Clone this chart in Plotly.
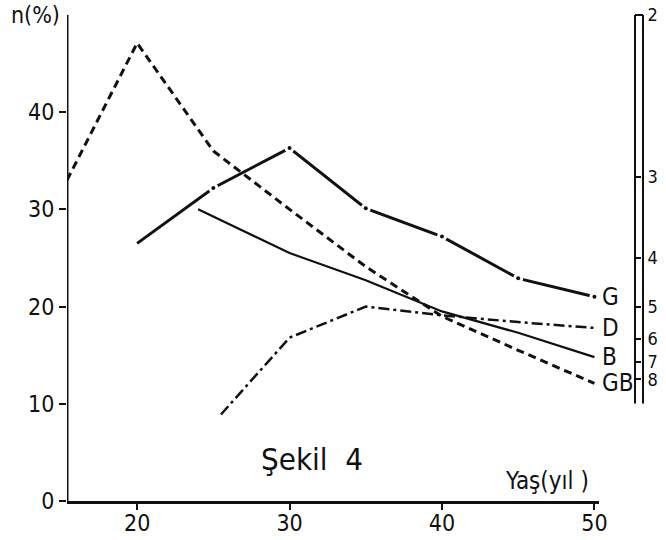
import plotly.graph_objects as go

# ---- data ----
age_G = [20, 25, 30, 35, 40, 45, 50]
n_G = [26.5, 32.2, 36.3, 30.1, 27.2, 22.9, 21.0]

age_D = [25.5, 30, 35, 40, 45, 50]
n_D = [8.9, 16.8, 20.0, 19.1, 18.4, 17.8]

age_B = [24, 30, 35, 40, 45, 50]
n_B = [30.0, 25.5, 22.7, 19.5, 17.3, 14.8]

age_GB = [15.4, 20, 25, 30, 35, 40, 45, 50]
n_GB = [33.0, 47.1, 36.0, 30.0, 24.1, 19.0, 15.5, 12.1]

x_ticks = [20, 30, 40, 50]
y_ticks = [0, 10, 20, 30, 40]
right_ticks = [2, 3, 4, 5, 6, 7, 8]   # right scale: n = 100 / value

FONT = "DejaVu Sans Condensed, Roboto Condensed, Roboto, DejaVu Sans, sans-serif"
INK = "#111111"

fig = go.Figure()

# GB - dashed
fig.add_trace(go.Scatter(x=age_GB, y=n_GB, mode="lines",
                         line=dict(color=INK, width=3, dash="8px,5px")))
# D - dash-dot
fig.add_trace(go.Scatter(x=age_D, y=n_D, mode="lines",
                         line=dict(color=INK, width=2.5, dash="11px,4px,3px,4px")))
# B - solid thin
fig.add_trace(go.Scatter(x=age_B, y=n_B, mode="lines",
                         line=dict(color=INK, width=2.2)))
# G - solid segments broken at each point with a dot
fig.add_trace(go.Scatter(x=age_G, y=n_G, mode="lines",
                         line=dict(color=INK, width=3)))
fig.add_trace(go.Scatter(x=age_G[1:], y=n_G[1:], mode="markers",
                         marker=dict(color="white", size=10, line=dict(width=0))))
fig.add_trace(go.Scatter(x=age_G[1:], y=n_G[1:], mode="markers",
                         marker=dict(color=INK, size=4, line=dict(width=0))))

# right scale strip (two axis lines)
fig.add_trace(go.Scatter(x=[None], y=[None], yaxis="y2", showlegend=False))
fig.add_trace(go.Scatter(x=[None], y=[None], yaxis="y3", showlegend=False))

labels = [("G", age_G, n_G), ("D", age_D, n_D), ("B", age_B, n_B), ("GB", age_GB, n_GB)]
for name, xs, ys in labels:
    fig.add_annotation(x=xs[-1], y=ys[-1], text=name, showarrow=False,
                       xanchor="left", yanchor="middle", xshift=6,
                       font=dict(family=FONT, size=24, color=INK))

fig.add_annotation(xref="paper", yref="y", x=-0.008, y=50, yshift=0, text="n(%)",
                   showarrow=False, xanchor="right", yanchor="middle",
                   font=dict(family=FONT, size=23, color=INK))
fig.add_annotation(x=44.0, y=0.4, text="Yaş(yıl )", showarrow=False,
                   xanchor="left", yanchor="bottom",
                   font=dict(family=FONT, size=24, color=INK))
fig.add_annotation(x=31.5, y=4.3, text="Şekil  4", showarrow=False,
                   xanchor="center", yanchor="middle",
                   font=dict(family=FONT, size=31, color=INK))

Y_TOP = 50.4
W, H = 666, 540
L, R, T = 67, 20, 11
B = H - 501
pw = W - L - R
xdom_end = (599 - 67) / pw
pos_in = (635 - 67) / pw
pos_out = (643 - 67) / pw
strip_bottom = 10.0
y2_dom = [strip_bottom / Y_TOP, 1]

fig.update_layout(
    width=W, height=H,
    margin=dict(l=L, r=R, t=T, b=B, autoexpand=False),
    paper_bgcolor="white", plot_bgcolor="rgba(0,0,0,0)",
    showlegend=False,
    font=dict(family=FONT, size=23, color=INK),
    xaxis=dict(domain=[0, xdom_end], range=[15.4, 50.3], tickvals=x_ticks,
               showline=True, linecolor=INK, linewidth=3, ticks="outside",
               ticklen=6, tickwidth=2, tickcolor=INK, showgrid=False, zeroline=False,
               automargin=False, ticklabelstandoff=-7, ticklabeloverflow="allow",
               tickfont=dict(family=FONT, size=23, color=INK)),
    yaxis=dict(domain=[0, 1], range=[0, Y_TOP], tickvals=y_ticks, showline=False,
               ticks="outside", ticklen=7, tickwidth=2, tickcolor=INK,
               showgrid=False, zeroline=False, ticklabelstandoff=0, automargin=False,
               ticklabeloverflow="allow",
               tickfont=dict(family=FONT, size=23, color=INK)),
    yaxis2=dict(anchor="free", position=pos_in, side="right",
                domain=y2_dom, range=[strip_bottom, Y_TOP],
                tickvals=[100 / n for n in right_ticks], ticktext=[str(n) for n in right_ticks],
                showline=False, ticks="outside", ticklen=5,
                tickwidth=2, tickcolor=INK, showgrid=False, zeroline=False,
                ticklabelstandoff=3, automargin=False, ticklabeloverflow="allow",
                tickfont=dict(family=FONT, size=18, color=INK)),
    yaxis3=dict(anchor="free", position=pos_out, side="right",
                domain=y2_dom, range=[strip_bottom, Y_TOP], showline=False,
                showticklabels=False, ticks="", showgrid=False,
                zeroline=False, automargin=False),
)

# axis lines: left axis from 0 to its top, the right strip from its bottom up to "2" with a cap
fig.add_shape(type="line", xref="x", yref="y", x0=15.4, x1=15.4, y0=0, y1=Y_TOP - 0.4,
              line=dict(color=INK, width=3))
fig.add_shape(type="line", xref="paper", yref="y2", x0=pos_in, x1=pos_in, y0=strip_bottom,
              y1=100 / right_ticks[0], line=dict(color=INK, width=2))
fig.add_shape(type="line", xref="paper", yref="y2", x0=pos_out, x1=pos_out, y0=strip_bottom,
              y1=100 / right_ticks[0], line=dict(color=INK, width=2))
fig.add_shape(type="line", xref="paper", yref="y2", x0=pos_in, x1=pos_out,
              y0=100 / right_ticks[0], y1=100 / right_ticks[0],
              line=dict(color=INK, width=2))

# remove the default page margin so the figure sits at the window's top-left corner
fig.write_html("out.html", config={"displayModeBar": False},
               post_script="document.body.style.margin='0';")
